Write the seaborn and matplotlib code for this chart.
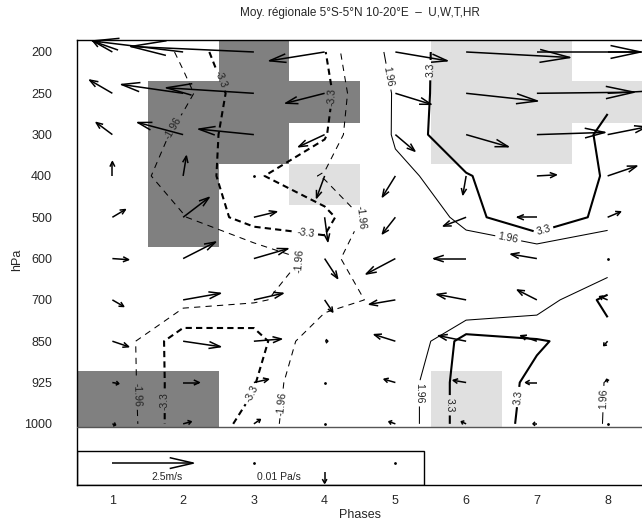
import numpy as np
import matplotlib
matplotlib.use("Agg")
import matplotlib.pyplot as plt
import seaborn as sns
from matplotlib.collections import LineCollection
from matplotlib.colors import ListedColormap
from matplotlib.patches import Rectangle

# ==============================
# DATA
# ==============================
phases = [1, 2, 3, 4, 5, 6, 7, 8]
levels_hpa = [200, 250, 300, 400, 500, 600, 700, 850, 925, 1000]

# champ de t-test (lignes = niveaux 200 -> 1000, colonnes = phases 1 -> 8)
t_field = [
    [0.5, -2.3, -5.0, -3.4, 3.0, 3.6, 4.5, 4.0],
    [0.0, -1.51, -4.49, -4.0, 2.3, 4.34, 4.5, 3.6],
    [0.2, -2.5, -4.1, -3.5, 2.3, 4.47, 4.5, 3.0],
    [-0.62, -3.06, -3.57, -1.78, 1.32, 3.2, 4.3, 3.18],
    [0.3, -1.85, -4.08, -3.84, -0.22, 2.61, 4.99, 2.64],
    [0.2, -0.5, -0.66, -2.6, 0.18, 0.51, 0.3, 0.5],
    [0.0, -1.4, -1.8, -2.6, -1.46, 0.03, 1.11, 3.7],
    [-0.86, -4.2, -4.0, -0.55, -0.05, 3.97, 3.42, 2.75],
    [-0.82, -4.17, -3.4, 0.0, 0.9, 4.02, 3.07, 1.9],
    [-0.69, -4.22, -2.92, -0.25, 0.9, 4.02, 2.98, 1.88],
]
contour_levels = [-3.3, -1.96, 1.96, 3.3]

# significativite (0 = non, 1 = positive, 2 = negative)
shade = [
    [0, 0, 2, 0, 0, 1, 1, 0],
    [0, 2, 2, 2, 0, 1, 1, 1],
    [0, 2, 2, 0, 0, 1, 1, 0],
    [0, 2, 0, 1, 0, 0, 0, 0],
    [0, 2, 0, 0, 0, 0, 0, 0],
    [0, 0, 0, 0, 0, 0, 0, 0],
    [0, 0, 0, 0, 0, 0, 0, 0],
    [0, 0, 0, 0, 0, 0, 0, 0],
    [2, 2, 0, 0, 0, 1, 0, 0],
    [2, 2, 0, 0, 0, 1, 0, 0],
]

# vent zonal U (m/s)
u_wind = [
    [-0.6, -2.8, -3.8, -1.7, 1.6, 3.2, 3.2, 1.9],
    [-0.7, -1.9, -2.7, -1.2, 1.1, 2.2, 3.0, 1.9],
    [-0.5, -1.4, -1.7, -0.8, 0.6, 1.3, 2.1, 1.2],
    [0.0, 0.1, 0.03, -0.25, -0.4, -0.1, 0.6, 0.9],
    [0.4, 0.8, 0.7, 0.1, -0.4, -0.7, -0.6, 0.4],
    [0.5, 1.0, 1.05, 0.4, -0.9, -1.0, -0.8, 0.03],
    [0.35, 1.15, 0.9, 0.25, -0.8, -0.9, -0.6, -0.25],
    [0.5, 1.15, 0.85, 0.1, -0.65, -0.85, -0.5, -0.12],
    [0.2, 0.5, 0.45, 0.03, -0.35, -0.4, -0.35, -0.03],
    [0.1, 0.25, 0.2, 0.0, -0.2, -0.15, -0.12, 0.0],
]

# vitesse verticale W (Pa/s), positif = subsidence
w_omega = [
    [-0.010, -0.010, -0.005, 0.008, 0.008, 0.005, 0.0, 0.0],
    [-0.012, -0.008, -0.005, 0.009, 0.010, 0.007, -0.001, -0.003],
    [-0.011, -0.011, -0.005, 0.011, 0.015, 0.011, -0.002, -0.007],
    [-0.013, -0.018, -0.001, 0.020, 0.019, 0.017, -0.001, -0.009],
    [-0.007, -0.018, -0.005, 0.022, 0.015, 0.008, 0.0, -0.005],
    [0.001, -0.015, -0.009, 0.018, 0.014, 0.0, -0.004, 0.0],
    [0.006, -0.006, -0.006, 0.011, 0.004, -0.005, -0.009, -0.003],
    [0.005, 0.005, -0.002, 0.0, -0.006, -0.005, -0.005, 0.004],
    [0.001, 0.0, -0.003, 0.0, -0.003, -0.002, 0.0, -0.003],
    [0.001, -0.002, -0.004, 0.0, -0.002, -0.002, 0.0, 0.0],
]

# fleches de reference
ref_speed = 2.5     # m/s
ref_omega = 0.01    # Pa/s

# ==============================
# STYLE
# ==============================
sns.set_style("white")
plt.rcParams['font.family'] = ['Liberation Sans', 'DejaVu Sans']

W_PX, H_PX = 642, 522
Y_TOP, Y_BOT = -0.29, 10.48          # limites verticales (indice de niveau)
Y_BASE = 9.08                        # trait sous 1000 hPa
PX_PER_MS = 81 / 2.5                 # longueur fleche horizontale
PX_PER_PAS = 1100                    # longueur fleche verticale

fig = plt.figure(figsize=(W_PX / 100, H_PX / 100), dpi=100)
ax_box = [77 / W_PX, 37 / H_PX, 566 / W_PX, 445 / H_PX]
ax = fig.add_axes(ax_box)
ax.set_xlim(0.5, 8.5)
ax.set_ylim(Y_BOT, Y_TOP)

sx = ax_box[2] * W_PX / 8.0
sy = ax_box[3] * H_PX / (Y_BOT - Y_TOP)

# ==============================
# OMBRAGE
# ==============================
x_edges = np.arange(0.5, 9.0, 1.0)
y_edges = list(np.arange(10) + Y_TOP) + [Y_BASE]
cmap = ListedColormap(['white', '#e0e0e0', '#808080'])
ax.pcolormesh(x_edges, y_edges, np.array(shade), cmap=cmap, vmin=-0.5, vmax=2.5,
              shading='flat', zorder=0)

# ==============================
# CONTOURS
# ==============================
X, Y = np.meshgrid(phases, np.arange(len(levels_hpa)))
Z = np.array(t_field)

styles = {
    -3.3: (1.5, [(0, (3, 2))]),
    -1.96: (0.75, [(0, (6, 5))]),
    1.96: (0.75, ['solid']),
    3.3: (1.5, ['solid']),
}
label_pos = {
    -3.3: [(2.51, 0.68), (4.16, 1.1), (3.74, 4.37), (1.74, 8.45), (2.9, 8.2)],
    -1.96: [(1.86, 1.84), (4.52, 4.02), (3.65, 5.07), (1.32, 8.3), (3.36, 8.5)],
    1.96: [(4.89, 0.6), (6.59, 4.55), (5.37, 8.26), (7.93, 8.4)],
    3.3: [(5.51, 0.44), (7.08, 4.24), (5.77, 8.55), (6.73, 8.35)],
}
for lev in contour_levels:
    lw, ls = styles[lev]
    cs = ax.contour(X, Y, Z, levels=[lev], colors='k', linewidths=lw, linestyles=ls, zorder=2)
    ax.set_xlim(0.5, 8.5)
    ax.set_ylim(Y_BOT, Y_TOP)
    ax.clabel(cs, fmt=lambda v: f"{v:g}", inline=True, inline_spacing=3,
              fontsize=7.5, colors='#222222', manual=label_pos[lev])

# ==============================
# FLECHES (U, W)
# ==============================
def arrow_lines(xs, ys, us, ws):
    segs, dots = [], []
    for x0, y0, u, w in zip(xs, ys, us, ws):
        dxp = u * PX_PER_MS
        dyp = w * PX_PER_PAS
        L = np.hypot(dxp, dyp)
        if L < 1.5:
            dots.append((x0, y0))
            continue
        ex, ey = dxp / L, dyp / L
        hl, hw = 0.28 * L + 1.0, 0.045 * L + 1.8
        tip = (x0 + dxp / sx, y0 + dyp / sy)
        b1 = (x0 + (dxp - hl * ex - hw * ey) / sx, y0 + (dyp - hl * ey + hw * ex) / sy)
        b2 = (x0 + (dxp - hl * ex + hw * ey) / sx, y0 + (dyp - hl * ey - hw * ex) / sy)
        segs.append([(x0, y0), tip])
        segs.append([b1, tip, b2])
    return segs, dots

xs = np.tile(phases, len(levels_hpa))
ys = np.repeat(np.arange(len(levels_hpa)), len(phases))
segs, dots = arrow_lines(xs, ys, np.ravel(u_wind), np.ravel(w_omega))
ax.add_collection(LineCollection(segs, colors='k', linewidths=1.1, zorder=3, clip_on=False))
if dots:
    d = np.array(dots)
    ax.plot(d[:, 0], d[:, 1], 'k.', ms=2, zorder=3)

# ==============================
# LEGENDE
# ==============================
ax.axhline(Y_BASE, color='#555555', lw=1.0, zorder=4)
ax.add_patch(Rectangle((0.5, 9.66), 4.9, Y_BOT - 9.66, fill=False, ec='k', lw=1.0, zorder=4))

leg_y = 9.95
segs, dots = arrow_lines([1, 3, 5], [leg_y] * 3, [ref_speed, 0, 0], [0, 0, 0])
segs2, _ = arrow_lines([4], [10.17], [0], [ref_omega])
ax.add_collection(LineCollection(segs + segs2, colors='k', linewidths=1.1, zorder=4))
d = np.array(dots)
ax.plot(d[:, 0], d[:, 1], 'k.', ms=2, zorder=4)
ax.text(1.77, 10.28, f"{ref_speed}m/s", ha='center', va='center', fontsize=7.5)
ax.text(3.36, 10.28, f"{ref_omega} Pa/s", ha='center', va='center', fontsize=7.5)

# ==============================
# AXES
# ==============================
ax.set_xticks(phases)
ax.set_xticklabels([str(p) for p in phases], fontsize=9)
ax.set_yticks(range(len(levels_hpa)))
ax.set_yticklabels([str(l) for l in levels_hpa], fontsize=9)
ax.tick_params(axis='both', length=0)
ax.tick_params(axis='x', pad=7)
ax.tick_params(axis='y', pad=18)
for sp in ax.spines.values():
    sp.set_color('k')
    sp.set_linewidth(1.0)

fig.text(360 / W_PX, 1 - 13 / H_PX, "Moy. régionale 5°S-5°N 10-20°E  –  U,W,T,HR",
         ha='center', va='center', fontsize=8.5)
fig.text(17 / W_PX, 1 - 260 / H_PX, "hPa", rotation=90, ha='center', va='center', fontsize=9)
fig.text(360 / W_PX, 1 - 515 / H_PX, "Phases", ha='center', va='center', fontsize=9)

fig.savefig("out.png", dpi=100)
